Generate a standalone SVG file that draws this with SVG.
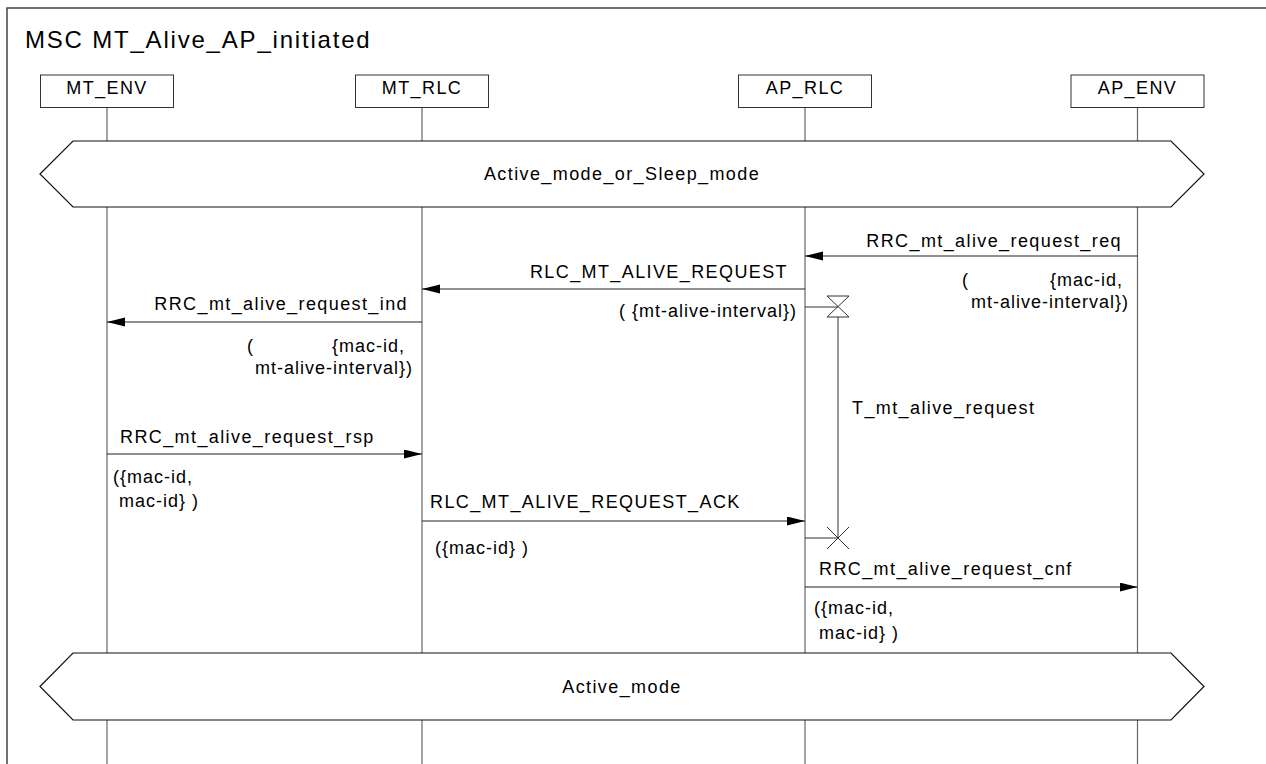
<svg xmlns="http://www.w3.org/2000/svg" width="1266" height="764" viewBox="0 0 1266 764">
<defs>
<marker id="ah" markerUnits="userSpaceOnUse" markerWidth="19" markerHeight="10" refX="18" refY="4.5" orient="auto">
<path d="M0,0 L18,4.5 L0,9 Z" fill="#000"/>
</marker>
</defs>
<style>
text{font-family:"Liberation Sans",Arial,sans-serif;fill:#000}
.t{font-size:24px;letter-spacing:1.8px}
.lbl{font-size:18px;letter-spacing:1.4px}
.p{font-size:18px;letter-spacing:1px}
.box{fill:#fff;stroke:#333;stroke-width:1}
.life{stroke:#666;stroke-width:1.2}
.msg{stroke:#222;stroke-width:1.2;fill:none}
.hex{fill:#fff;stroke:#111;stroke-width:1.2}
.tm{stroke:#333;stroke-width:1;fill:none}
</style>
<rect width="1266" height="764" fill="#fff"/>
<path d="M7,764 V8 H1266" fill="none" stroke="#444" stroke-width="1.5"/>
<text class="t" x="25" y="48">MSC MT_Alive_AP_initiated</text>

<g id="MT_ENV">
<line class="life" x1="107" y1="107.5" x2="107" y2="764"/>
<rect class="box" x="40.5" y="75" width="133" height="32.5"/>
<text class="lbl" x="107" y="94" text-anchor="middle">MT_ENV</text>
</g>
<g id="MT_RLC">
<line class="life" x1="422" y1="107.5" x2="422" y2="764"/>
<rect class="box" x="355.5" y="75" width="133" height="32.5"/>
<text class="lbl" x="422" y="94" text-anchor="middle">MT_RLC</text>
</g>
<g id="AP_RLC">
<line class="life" x1="805" y1="107.5" x2="805" y2="764"/>
<rect class="box" x="738.5" y="75" width="133" height="32.5"/>
<text class="lbl" x="805" y="94" text-anchor="middle">AP_RLC</text>
</g>
<g id="AP_ENV">
<line class="life" x1="1137.5" y1="107.5" x2="1137.5" y2="764"/>
<rect class="box" x="1071" y="75" width="133" height="32.5"/>
<text class="lbl" x="1137.5" y="94" text-anchor="middle">AP_ENV</text>
</g>

<g id="cond1">
<path class="hex" d="M40,174 L73,141 H1171 L1204,174 L1171,207 H73 Z"/>
<text class="lbl" x="622" y="180" text-anchor="middle">Active_mode_or_Sleep_mode</text>
</g>
<g id="cond2">
<path class="hex" d="M40,686.5 L73,653 H1171 L1204,686.5 L1171,720 H73 Z"/>
<text class="lbl" x="622" y="693" text-anchor="middle">Active_mode</text>
</g>

<g id="timer">
<line class="tm" x1="805" y1="307" x2="838" y2="307"/>
<path class="tm" d="M827,296 H849 L827,317 H849 Z"/>
<line class="tm" x1="838" y1="317" x2="838" y2="538"/>
<line class="tm" x1="805" y1="538" x2="838" y2="538"/>
<path class="tm" d="M827,527 L849,549 M849,527 L827,549"/>
<text class="lbl" x="852" y="414">T_mt_alive_request</text>
</g>

<g id="connectors">
<line class="msg" x1="1137.5" y1="256" x2="805" y2="256" marker-end="url(#ah)"/>
<line class="msg" x1="805" y1="289" x2="422" y2="289" marker-end="url(#ah)"/>
<line class="msg" x1="422" y1="322" x2="107" y2="322" marker-end="url(#ah)"/>
<line class="msg" x1="107" y1="454" x2="422" y2="454" marker-end="url(#ah)"/>
<line class="msg" x1="422" y1="521" x2="805" y2="521" marker-end="url(#ah)"/>
<line class="msg" x1="805" y1="587" x2="1137.5" y2="587" marker-end="url(#ah)"/>
</g>

<g id="labels">
<text class="lbl" x="1122" y="247" text-anchor="end">RRC_mt_alive_request_req</text>
<text class="p" y="286"><tspan x="962">(</tspan><tspan x="1123" text-anchor="end">{mac-id,</tspan></text>
<text class="p" x="1129" y="308" text-anchor="end">mt-alive-interval})</text>

<text class="lbl" x="788" y="278" text-anchor="end">RLC_MT_ALIVE_REQUEST</text>
<text class="p" x="797" y="317" text-anchor="end">( {mt-alive-interval})</text>

<text class="lbl" x="408" y="310" text-anchor="end">RRC_mt_alive_request_ind</text>
<text class="p" y="352"><tspan x="247">(</tspan><tspan x="405" text-anchor="end">{mac-id,</tspan></text>
<text class="p" x="413" y="374" text-anchor="end">mt-alive-interval})</text>

<text class="lbl" x="120" y="443">RRC_mt_alive_request_rsp</text>
<text class="p" x="113" y="483">({mac-id,</text>
<text class="p" x="119" y="507">mac-id} )</text>

<text class="lbl" x="430" y="508">RLC_MT_ALIVE_REQUEST_ACK</text>
<text class="p" x="435" y="554">({mac-id} )</text>

<text class="lbl" x="819" y="575">RRC_mt_alive_request_cnf</text>
<text class="p" x="814" y="614">({mac-id,</text>
<text class="p" x="819" y="639">mac-id} )</text>
</g>
</svg>
